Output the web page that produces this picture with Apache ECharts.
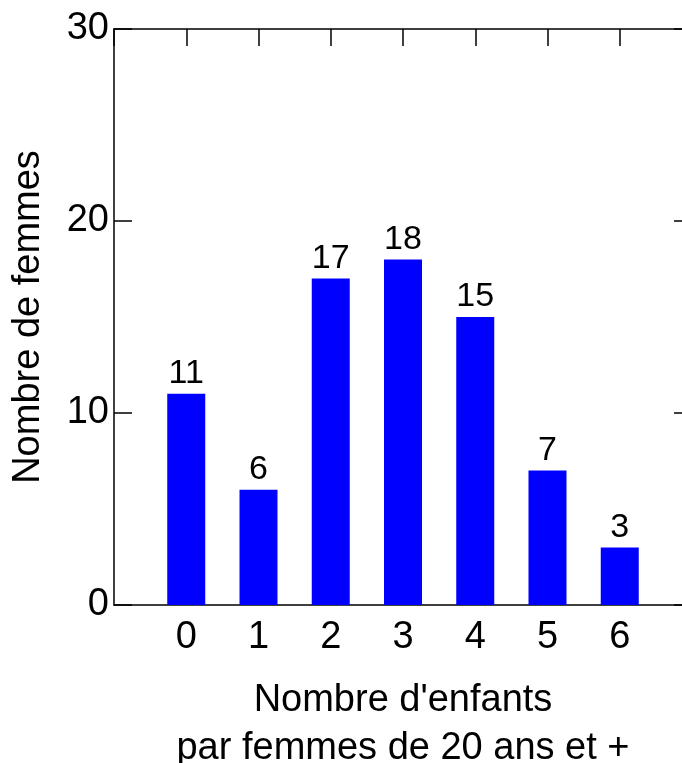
<!DOCTYPE html>
<html>
<head>
<meta charset="utf-8">
<script src="https://cdn.jsdelivr.net/npm/echarts@6/dist/echarts.min.js"></script>
<style>
html,body{margin:0;padding:0;background:#fff;}
#chart{width:682px;height:763px;}
</style>
</head>
<body>
<div id="chart"></div>
<script>
var categories = [0, 1, 2, 3, 4, 5, 6];
var counts = [11, 6, 17, 18, 15, 7, 3];
var yTicks = [0, 10, 20, 30];
var xTitle = "Nombre d'enfants\npar femmes de 20 ans et +";
var yTitle = "Nombre de femmes";

var FONT = '"Liberation Sans", Arial, Helvetica, sans-serif';
var barData = categories.map(function (c, i) { return [c, counts[i]]; });

var chart = echarts.init(document.getElementById('chart'), null, {renderer: 'canvas'});
var axisLine = {show: true, onZero: false, lineStyle: {color: '#000', width: 1.5}};
var tick = function (len) { return {show: true, inside: true, length: len, lineStyle: {color: '#000', width: 1.5}}; };
chart.setOption({
  animation: false,
  backgroundColor: '#fff',
  grid: {left: 114, top: 29, width: 578, height: 576, containLabel: false, outerBoundsMode: 'none'},
  xAxis: [{
    type: 'value', min: -1, max: 7, interval: 1, position: 'bottom',
    axisLine: axisLine,
    axisTick: {show: false},
    splitLine: {show: false},
    axisLabel: {
      color: '#000', fontFamily: FONT, fontSize: 38, margin: 14,
      formatter: function (v) { return categories.indexOf(v) >= 0 ? String(v) : ''; }
    },
    name: xTitle, nameLocation: 'middle', nameGap: 72,
    nameTextStyle: {color: '#000', fontFamily: FONT, fontSize: 38, lineHeight: 48}
  }, {
    type: 'value', min: -1, max: 7, interval: 1, position: 'top',
    axisLine: axisLine,
    axisTick: tick(17),
    axisLabel: {show: false}, splitLine: {show: false}
  }],
  yAxis: [{
    type: 'value', min: 0, max: 30, interval: 10, position: 'left',
    axisLine: axisLine,
    axisTick: tick(18),
    splitLine: {show: false},
    axisLabel: {
      color: '#000', fontFamily: FONT, fontSize: 38, margin: 5,
      formatter: function (v) { return yTicks.indexOf(v) >= 0 ? String(v) : ''; }
    },
    name: yTitle, nameLocation: 'middle', nameGap: 66, nameRotate: 90,
    nameTextStyle: {color: '#000', fontFamily: FONT, fontSize: 38}
  }, {
    type: 'value', min: 0, max: 30, interval: 10, position: 'right',
    axisLine: axisLine,
    axisTick: tick(18),
    axisLabel: {show: false}, splitLine: {show: false}
  }],
  series: [{
    type: 'bar', xAxisIndex: 0, yAxisIndex: 0,
    data: barData, barWidth: 38,
    itemStyle: {color: '#0000ff'},
    label: {show: true, position: 'top', distance: 3, color: '#000', fontFamily: FONT, fontSize: 34}
  }]
});
</script>
</body>
</html>
